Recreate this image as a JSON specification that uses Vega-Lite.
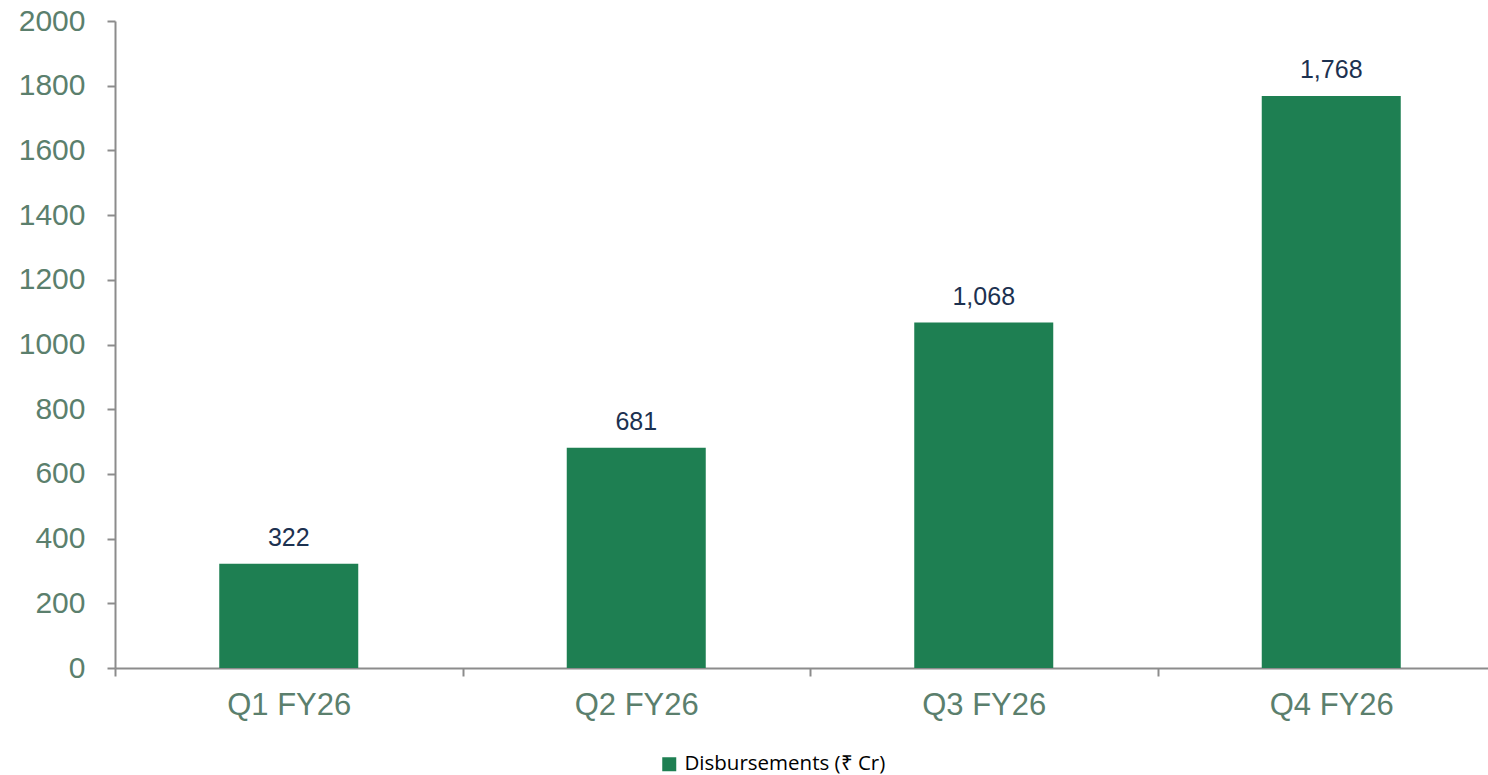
{
  "$schema": "https://vega.github.io/schema/vega-lite/v6.json",
  "autosize": {"type": "none"},
  "padding": {"left": 115, "top": 21, "right": 0, "bottom": 107},
  "width": 1390,
  "height": 647,
  "background": "white",
  "config": {"view": {"stroke": null}, "font": "Liberation Sans"},
  "data": {"values": [
    {"quarter": "Q1 FY26", "value": 322, "series": "Disbursements (₹ Cr)"},
    {"quarter": "Q2 FY26", "value": 681, "series": "Disbursements (₹ Cr)"},
    {"quarter": "Q3 FY26", "value": 1068, "series": "Disbursements (₹ Cr)"},
    {"quarter": "Q4 FY26", "value": 1768, "series": "Disbursements (₹ Cr)"}
  ]},
  "encoding": {
    "x": {"field": "quarter", "type": "nominal", "sort": null,
      "scale": {"paddingInner": 0, "paddingOuter": 0},
      "axis": {"title": null, "labelAngle": 0, "labelFont": "Liberation Sans", "labelFontSize": 31, "labelColor": "#5b7f6d",
        "domainColor": "#8c8c8c", "domainWidth": 2, "tickColor": "#8c8c8c", "tickWidth": 2, "tickSize": 8, "tickBand": "extent",
        "labelPadding": 14, "grid": false}},
    "y": {"field": "value", "type": "quantitative",
      "scale": {"domain": [0, 2000]},
      "axis": {"title": null, "values": [0,200,400,600,800,1000,1200,1400,1600,1800,2000], "format": "d",
        "labelFont": "Liberation Sans", "labelFontSize": 30, "labelColor": "#5b7f6d", "labelPadding": 22,
        "domainColor": "#8c8c8c", "domainWidth": 2, "tickColor": "#8c8c8c", "tickWidth": 2, "tickSize": 8, "grid": false}}
  },
  "layer": [
    {"mark": {"type": "bar", "color": "#1e7f52", "width": {"band": 0.4}},
     "encoding": {"color": {"field": "series", "type": "nominal", "scale": {"range": ["#1e7f52"]},
       "legend": {"title": null, "orient": "none", "legendX": 544, "legendY": 733, "symbolType": "square", "symbolSize": 196,
         "symbolStrokeWidth": 0, "symbolOpacity": 1, "labelFont": "Open Sans", "labelFontSize": 20.5, "labelLimit": 500, "labelColor": "#000000", "labelOffset": 5}}}},
    {"mark": {"type": "text", "baseline": "bottom", "dy": -13, "fontSize": 25, "color": "#1c3150", "font": "Liberation Sans"},
     "encoding": {"text": {"field": "value", "type": "quantitative", "format": ","}}}
  ]
}
